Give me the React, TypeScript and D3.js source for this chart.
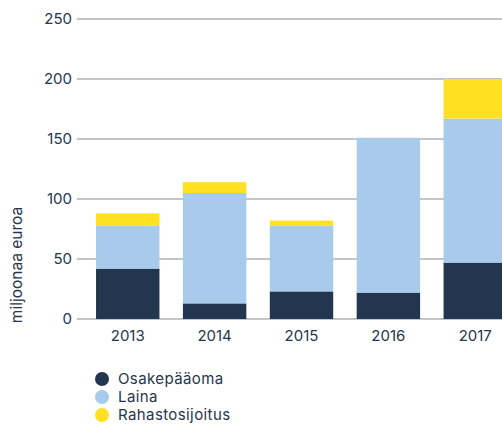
import React, { useRef, useEffect } from "react";
import * as d3 from "d3";

const years = ["2013", "2014", "2015", "2016", "2017"];
const osakepaaoma = [42, 13, 23, 22, 47];
const laina = [36, 92, 55, 129, 120];
const rahastosijoitus = [10, 9, 4, 0, 33];
const seriesNames = ["Osakepääoma", "Laina", "Rahastosijoitus"];
const colors = ["#22374f", "#a9cbeb", "#ffe022"];
const yTicks = [0, 50, 100, 150, 200, 250];

const App = () => {
  const ref = useRef<SVGSVGElement>(null);

  useEffect(() => {
    const width = 502;
    const height = 430;
    const svg = d3.select(ref.current);
    svg.selectAll("*").remove();

    const rows = years.map((y, i) => ({
      year: y,
      Osakepääoma: osakepaaoma[i],
      Laina: laina[i],
      Rahastosijoitus: rahastosijoitus[i],
    }));

    const x = d3.scaleBand().domain(years).range([83, 520]).paddingInner(0.27).paddingOuter(0.15);
    const y = d3.scaleLinear().domain([0, 250]).range([319, 19]);
    const color = d3.scaleOrdinal<string>().domain(seriesNames).range(colors);
    const textColor = "#26364c";
    const font = "Inter, 'Noto Sans', sans-serif";

    // grid
    svg
      .append("g")
      .selectAll("line")
      .data(yTicks)
      .join("line")
      .attr("x1", 77)
      .attr("x2", width)
      .attr("y1", (d) => y(d))
      .attr("y2", (d) => y(d))
      .attr("stroke", "#aeb3ba")
      .attr("stroke-width", 1.5);

    svg
      .append("g")
      .selectAll("text")
      .data(yTicks)
      .join("text")
      .attr("x", 72)
      .attr("y", (d) => y(d))
      .attr("dy", "0.35em")
      .attr("text-anchor", "end")
      .attr("fill", textColor)
      .style("font", `15px ${font}`)
      .text((d) => d);

    const stack = d3.stack<any>().keys(seriesNames)(rows);

    svg
      .append("g")
      .selectAll("g")
      .data(stack)
      .join("g")
      .attr("fill", (d) => color(d.key))
      .selectAll("rect")
      .data((d) => d)
      .join("rect")
      .attr("x", (d) => x(d.data.year)!)
      .attr("width", x.bandwidth())
      .attr("y", (d) => y(d[1]))
      .attr("height", (d) => y(d[0]) - y(d[1]));

    // x labels
    svg
      .append("g")
      .selectAll("text")
      .data(years)
      .join("text")
      .attr("x", (d) => x(d)! + x.bandwidth() / 2)
      .attr("y", 336)
      .attr("dy", "0.35em")
      .attr("text-anchor", "middle")
      .attr("fill", textColor)
      .style("font", `15px ${font}`)
      .text((d) => d);

    svg
      .append("text")
      .attr("transform", `translate(17,265) rotate(-90)`)
      .attr("dy", "0.35em")
      .attr("text-anchor", "middle")
      .attr("fill", textColor)
      .style("font", `15.5px ${font}`)
      .text("miljoonaa euroa");

    // legend
    const legend = svg
      .append("g")
      .selectAll("g")
      .data(seriesNames)
      .join("g")
      .attr("transform", (d, i) => `translate(102,${379 + i * 18})`);
    legend.append("circle").attr("r", 7).attr("fill", (d) => color(d));
    legend
      .append("text")
      .attr("x", 16)
      .attr("dy", "0.35em")
      .attr("fill", textColor)
      .style("font", `15px ${font}`)
      .style("letter-spacing", "0.4px")
      .text((d) => d);

    svg.attr("width", width).attr("height", height);
  }, []);

  return <svg ref={ref} style={{ position: "absolute", left: 0, top: 0 }} />;
};

export default App;
